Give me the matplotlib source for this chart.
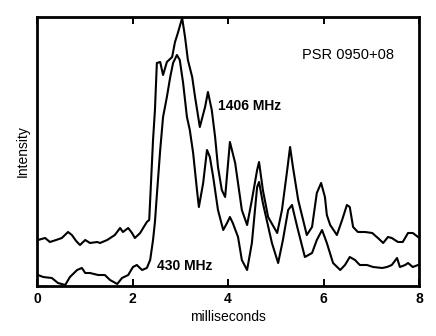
import numpy as np
import matplotlib
matplotlib.use('Agg')
import matplotlib.pyplot as plt

plt.rcParams['font.family'] = ['Liberation Sans', 'DejaVu Sans']

# 1406 MHz profile (time in ms, intensity arbitrary units)
t_1406 = [0.02, 0.17, 0.27, 0.40, 0.52, 0.65, 0.73, 0.82, 0.90, 1.01,
          1.11, 1.26, 1.32, 1.47, 1.63, 1.74, 1.80, 1.91, 1.99, 2.05,
          2.16, 2.30, 2.35, 2.37, 2.43, 2.47, 2.51, 2.58, 2.64, 2.72,
          2.83, 2.89, 2.95, 3.04, 3.10, 3.16, 3.25, 3.31, 3.41, 3.52,
          3.58, 3.66, 3.73, 3.79, 3.87, 3.94, 4.04, 4.15, 4.29, 4.40,
          4.50, 4.61, 4.65, 4.73, 4.84, 5.03, 5.13, 5.24, 5.30, 5.36,
          5.47, 5.65, 5.76, 5.86, 5.95, 6.03, 6.07, 6.14, 6.28, 6.39,
          6.49, 6.55, 6.62, 6.72, 6.87, 7.02, 7.14, 7.25, 7.35, 7.43,
          7.56, 7.66, 7.77, 7.87, 7.98]
i_1406 = [46, 48, 44, 46, 48, 54, 51, 45, 41, 46,
          43, 44, 43, 46, 51, 58, 54, 58, 53, 48,
          53, 64, 66, 86, 146, 176, 223, 224, 211, 224,
          229, 244, 253, 268, 249, 226, 209, 189, 159, 179,
          194, 176, 149, 119, 96, 89, 144, 123, 76, 61,
          86, 116, 124, 96, 69, 53, 76, 116, 139, 119,
          86, 51, 59, 93, 103, 89, 71, 61, 51, 66,
          81, 79, 59, 54, 54, 53, 48, 43, 49, 48,
          44, 44, 53, 53, 49]

# 430 MHz profile
t_430 = [0.02, 0.13, 0.31, 0.44, 0.59, 0.69, 0.84, 0.94, 1.01, 1.11,
         1.28, 1.42, 1.53, 1.68, 1.78, 1.91, 2.01, 2.09, 2.20, 2.30,
         2.37, 2.43, 2.47, 2.51, 2.58, 2.64, 2.72, 2.79, 2.85, 2.93,
         2.99, 3.06, 3.14, 3.20, 3.27, 3.35, 3.39, 3.48, 3.56, 3.62,
         3.69, 3.79, 3.90, 3.98, 4.04, 4.10, 4.21, 4.29, 4.40, 4.50,
         4.61, 4.65, 4.73, 4.92, 5.05, 5.15, 5.26, 5.34, 5.45, 5.61,
         5.76, 5.86, 5.97, 6.07, 6.20, 6.35, 6.45, 6.55, 6.66, 6.76,
         6.91, 7.04, 7.23, 7.33, 7.43, 7.54, 7.60, 7.71, 7.77, 7.87,
         7.98]
i_430 = [11, 9, 8, 3, 1, 9, 16, 18, 13, 13,
         11, 11, 6, 2, 8, 11, 19, 21, 16, 18,
         26, 46, 64, 91, 136, 169, 189, 209, 223, 231,
         226, 203, 169, 156, 133, 96, 79, 103, 136, 129,
         109, 76, 56, 63, 69, 63, 49, 26, 16, 43,
         99, 104, 83, 43, 23, 46, 76, 81, 59, 29,
         33, 46, 56, 43, 23, 16, 21, 29, 26, 21,
         21, 19, 18, 19, 21, 28, 19, 21, 23, 19,
         21]

xticks = [0, 2, 4, 6, 8]

fig = plt.figure(figsize=(4.36, 3.36), dpi=100)
ax = fig.add_axes([37/436, 1-286/336, (419-37)/436, (286-17)/336])
ax.plot(t_1406, i_1406, color='black', lw=1.5, solid_joinstyle='round')
ax.plot(t_430, i_430, color='black', lw=1.5, solid_joinstyle='round')
ax.set_xlim(0, 8); ax.set_ylim(0, 269)
ax.set_xticks(xticks)
ax.set_xticklabels([str(v) for v in xticks], fontweight='bold', fontsize=10)
ax.set_yticks([])
ax.tick_params(axis='x', direction='in', top=True, length=5, width=1.4, pad=4)
for s in ax.spines.values():
    s.set_linewidth(2)
ax.set_xlabel('milliseconds', fontsize=10, labelpad=3)
ax.set_ylabel('Intensity', fontsize=10, labelpad=5)
ax.text(5.55, 231, 'PSR 0950+08', fontsize=10.5, ha='left', va='center')
ax.text(3.79, 180, '1406 MHz', fontsize=10, fontweight='bold', ha='left', va='center')
ax.text(2.51, 20, '430 MHz', fontsize=10, fontweight='bold', ha='left', va='center')
fig.savefig('out.png', dpi=100)
